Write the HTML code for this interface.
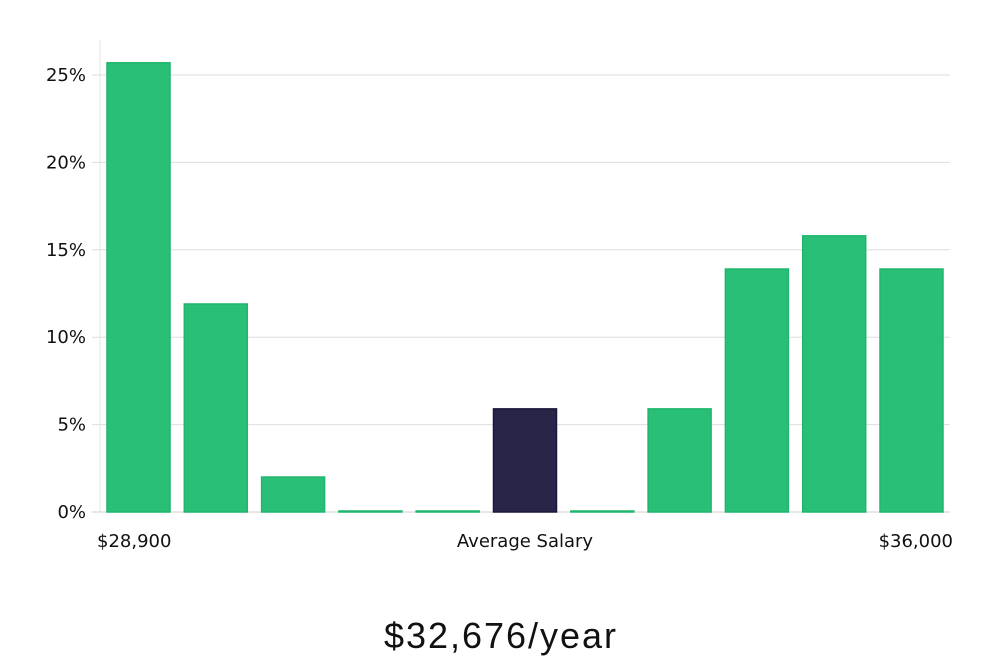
<!DOCTYPE html>
<html><head><meta charset="utf-8"><style>
body{margin:0;background:#fff;width:1000px;height:660px;overflow:hidden;font-family:"DejaVu Sans","Liberation Sans",sans-serif}
</style></head><body>
<svg width="1000" height="660" xmlns="http://www.w3.org/2000/svg">
<g id="grid"></g><g id="bars"></g><g id="labels"></g>
<text x="500" y="648" text-anchor="middle" font-family="'Liberation Sans',sans-serif" font-size="36" fill="#111" textLength="232">$32,676/year</text>
</svg>
<script>
const categories=["b1","b2","b3","b4","b5","b6","b7","b8","b9","b10","b11"];
const values=[25.7,11.9,2.0,0.05,0.05,5.9,0.05,5.9,13.9,15.8,13.9];
const highlight=[false,false,false,false,false,true,false,false,false,false,false];
const yTicks=[0,5,10,15,20,25];
const xLabels=["$28,900","Average Salary","$36,000"];
const NS="http://www.w3.org/2000/svg";
const y0=512,pxPer=(512-75)/25;
const y=v=>y0-v*pxPer;
const left=100,right=950,step=77.3,bw=63,first=107;
const x=i=>first+i*step;
function mk(t,a,p){const e=document.createElementNS(NS,t);for(const k in a)e.setAttribute(k,a[k]);p.appendChild(e);return e;}
const g=document.getElementById('grid');
const ax=mk('line',{x1:left,x2:left,y1:40,y2:y0,stroke:'#e3e3e3'},g);


yTicks.forEach(t=>{
 const l=mk('line',{x1:92,x2:right,y1:y(t),y2:y(t),stroke:t===0?'#cfcfcf':'#dedede'},g);
 
 
 const tx=mk('text',{x:86,y:y(t)+6,'text-anchor':'end','font-size':18,fill:'#111'},g);
 tx.textContent=t+'%';
 
 
});
const b=document.getElementById('bars');
values.forEach((v,i)=>{
 const h=Math.max(1,v*pxPer);
 const r=mk('rect',{x:x(i),y:y0-h,width:bw,height:h,fill:highlight[i]?'#282548':'#2abf77',stroke:highlight[i]?'#1a1838':'#1fb56d','stroke-width':1.5},b);
 
 
});
const lb=document.getElementById('labels');
[[97,'start'],[525,'middle'],[953,'end']].forEach((p,i)=>{
 const t=mk('text',{x:p[0],y:547,'text-anchor':p[1],'font-size':18,fill:'#111'},lb);
 t.textContent=xLabels[i];
 
 
});
</script>
</body></html>
